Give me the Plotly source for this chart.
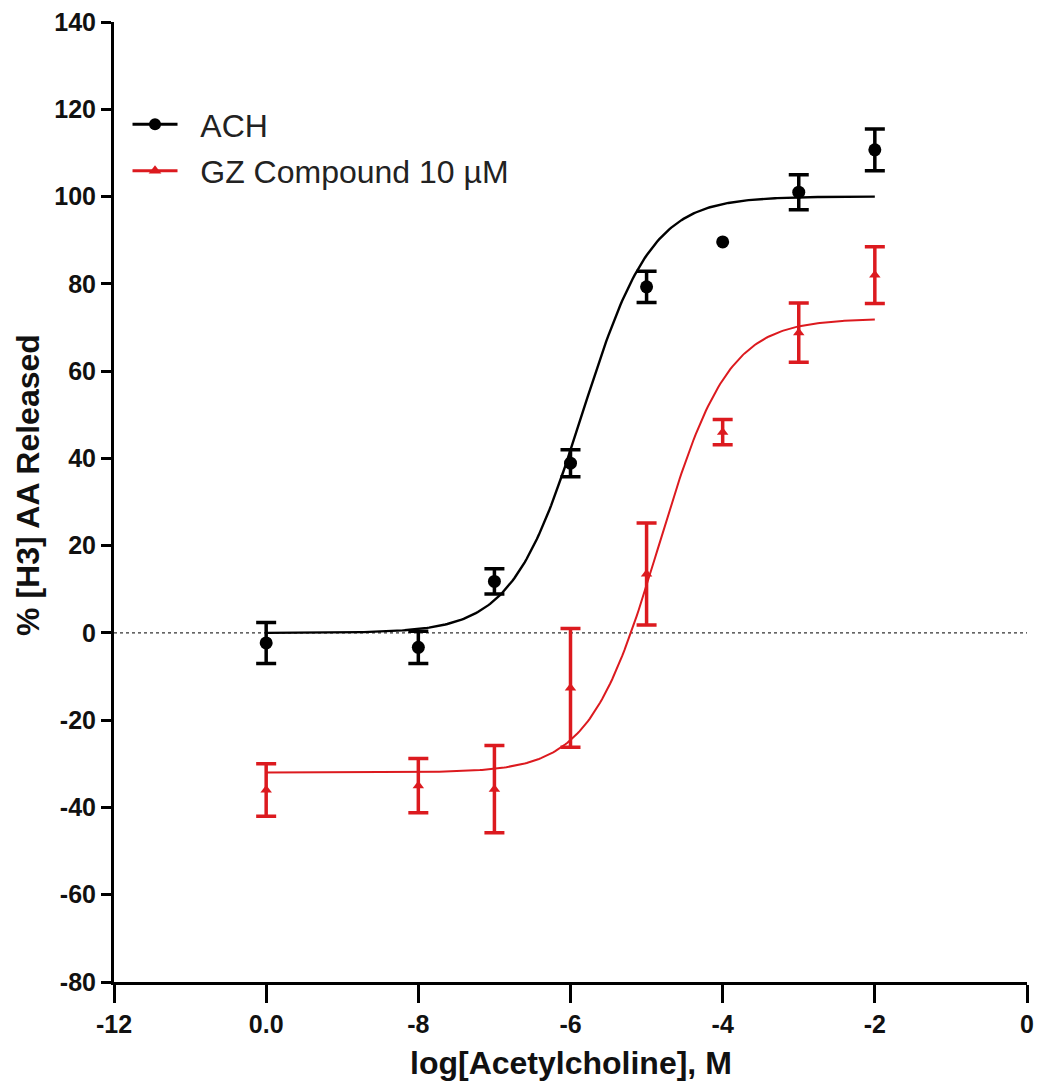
import numpy as np
import plotly.graph_objects as go

# ---- data ----
x_doses = [-10, -8, -7, -6, -5, -4, -3, -2]
ach_mean = [-2.3, -3.3, 11.8, 38.9, 79.3, 89.6, 101.0, 110.7]
ach_err = [4.7, 3.7, 2.9, 3.1, 3.6, None, 4.0, 4.8]   # no visible bar at -4
gz_mean = [-36.0, -35.0, -35.8, -12.6, 13.5, 46.0, 68.8, 82.0]
gz_err = [6.0, 6.2, 10.0, 13.6, 11.7, 2.9, 6.8, 6.5]

# 4-parameter logistic fit parameters (bottom, top, logEC50, hill)
ach_fit = dict(bottom=0.0, top=100.0, logec50=-5.85, hill=0.95)
gz_fit = dict(bottom=-32.0, top=72.0, logec50=-4.84, hill=0.96)

x_ticks = [-12, -10, -8, -6, -4, -2, 0]
x_ticklabels = ["-12", "0.0", "-8", "-6", "-4", "-2", "0"]
y_ticks = [-80, -60, -40, -20, 0, 20, 40, 60, 80, 100, 120, 140]
y_ticklabels = ["-80", "-60", "-40", "-20", "0", "20", "40", "60", "80", "100", "120", "140"]

legend_names = ["ACH", "GZ Compound 10 µM"]
x_title = "log[Acetylcholine], M"
y_title = "% [H3] AA Released"
black = "#000000"
red = "#dc1a1f"


def logistic(x, bottom, top, logec50, hill):
    return bottom + (top - bottom) / (1.0 + 10 ** ((logec50 - x) * hill))


xc = np.linspace(-10, -2, 300)

fig = go.Figure()

# fitted curves
fig.add_trace(go.Scatter(x=xc, y=logistic(xc, **ach_fit), mode="lines",
                         line=dict(color=black, width=2.4), showlegend=False,
                         hoverinfo="skip"))
fig.add_trace(go.Scatter(x=xc, y=logistic(xc, **gz_fit), mode="lines",
                         line=dict(color=red, width=2.0), showlegend=False,
                         hoverinfo="skip"))

# error bars only where an error value exists
ach_eb = [(x, m, e) for x, m, e in zip(x_doses, ach_mean, ach_err) if e is not None]
fig.add_trace(go.Scatter(x=[p[0] for p in ach_eb], y=[p[1] for p in ach_eb], mode="markers",
                         marker=dict(size=1, color="rgba(0,0,0,0)"),
                         error_y=dict(type="data", array=[p[2] for p in ach_eb], visible=True,
                                      color=black, thickness=3.5, width=10),
                         showlegend=False, hoverinfo="skip"))

# data points
fig.add_trace(go.Scatter(x=x_doses, y=ach_mean, mode="markers",
                         marker=dict(symbol="circle", size=13, color=black),
                         showlegend=False))
fig.add_trace(go.Scatter(x=x_doses, y=gz_mean, mode="markers",
                         marker=dict(symbol="triangle-up", size=10, color=red),
                         error_y=dict(type="data", array=gz_err, visible=True,
                                      color=red, thickness=3.5, width=10),
                         showlegend=False))

# legend entries
fig.add_trace(go.Scatter(x=[None], y=[None], mode="lines+markers",
                         name="\u00a0\u00a0" + legend_names[0], legendgroup="a",
                         line=dict(color=black, width=3),
                         marker=dict(symbol="circle", size=12, color=black)))
fig.add_trace(go.Scatter(x=[None], y=[None], mode="lines+markers",
                         name="\u00a0\u00a0" + legend_names[1], legendgroup="b",
                         line=dict(color=red, width=3),
                         marker=dict(symbol="triangle-up", size=11, color=red)))

# zero dotted line
fig.add_shape(type="line", xref="paper", yref="y", x0=0, x1=1, y0=0, y1=0,
              line=dict(color="#333333", width=1.3, dash="dot"), layer="below")

# axis titles
fig.add_annotation(text=x_title, xref="paper", yref="paper", x=0.5, y=-0.0844,
                   xanchor="center", yanchor="middle", showarrow=False,
                   font=dict(size=32, weight="bold", color="#111111"))
fig.add_annotation(text=y_title, xref="paper", yref="paper", x=-0.094, y=0.518,
                   xanchor="center", yanchor="middle", showarrow=False, textangle=-90,
                   font=dict(size=32, weight="bold", color="#111111"))

# the page body adds an 8px offset, so the figure is 8px smaller and margins are adjusted
fig.update_layout(
    width=1034, height=1079,
    margin=dict(l=106, r=15, t=14, b=105, autoexpand=False),
    paper_bgcolor="white", plot_bgcolor="white",
    font=dict(family="Liberation Sans, Arial, sans-serif", color="black"),
    legend=dict(x=0.0148, y=0.922, xanchor="left", yanchor="top",
                font=dict(size=32, color="#222222"), bgcolor="rgba(0,0,0,0)",
                tracegroupgap=2, itemwidth=45),
    xaxis=dict(range=[-12, 0], tickvals=x_ticks, ticktext=x_ticklabels,
               automargin=False, ticklabeloverflow="allow",
               showgrid=False, zeroline=False, showline=True, linecolor="black",
               linewidth=3, ticks="outside", ticklen=18, tickwidth=3, tickcolor="black",
               tickfont=dict(size=25, weight="bold", color="#111111")),
    yaxis=dict(range=[-80, 140], tickvals=y_ticks, ticktext=y_ticklabels,
               automargin=False, ticklabeloverflow="allow",
               showgrid=False, zeroline=False, showline=True, linecolor="black",
               linewidth=3, ticks="outside", ticklen=10, tickwidth=3, tickcolor="black",
               tickfont=dict(size=25, weight="bold", color="#111111")),
)

fig.write_html("out.html")
